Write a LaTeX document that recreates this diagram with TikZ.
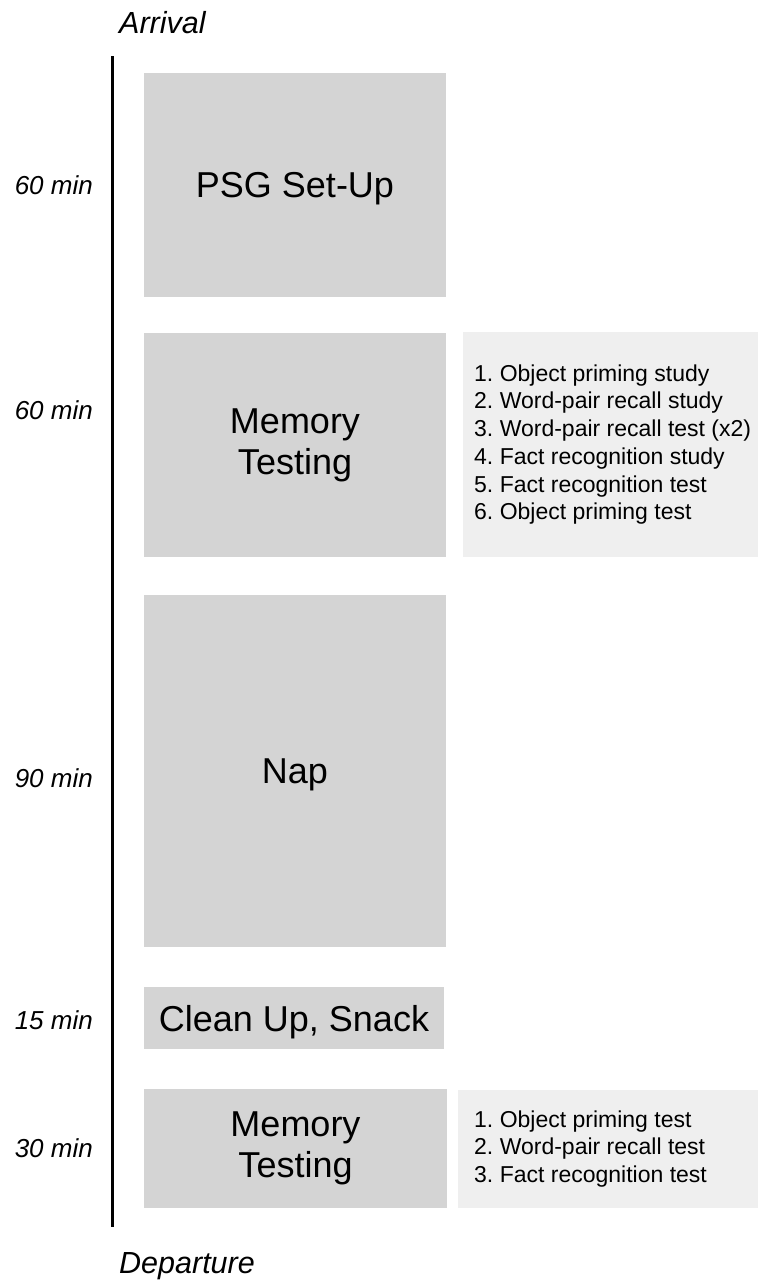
\documentclass[tikz,border=0pt]{standalone}
\usepackage{fontspec}
\setmainfont{Liberation Sans}
\frenchspacing
\definecolor{phasegrey}{RGB}{212,212,212}
\definecolor{listgrey}{RGB}{239,239,239}
\begin{document}
\begin{tikzpicture}[x=1pt,y=-1pt,
  phase/.style={fill=phasegrey, inner sep=0pt, align=center,
    font=\fontsize{36}{41}\selectfont},
  oneline/.style={text depth=0pt},
  listbox/.style={fill=listgrey, inner sep=0pt},
  listtext/.style={anchor=west, inner sep=0pt, align=left,
    font=\fontsize{23}{27.7}\selectfont},
  duration/.style={anchor=east, inner sep=0pt,
    font=\fontsize{26}{30}\selectfont\itshape},
  endlabel/.style={anchor=base west, inner sep=0pt,
    font=\fontsize{30.5}{34}\selectfont\itshape},
  timeline/.style={line width=3pt}]
\useasboundingbox (0,0) rectangle (758,1282);

% timeline
\node[endlabel] (arrival) at (119,33) {Arrival};
\node[endlabel] (departure) at (119,1273) {Departure};
\coordinate (tstart) at (112,56);
\coordinate (tend) at (112,1227);
\draw[timeline] (tstart) -- (tend);

% phases
\node[phase, oneline, minimum width=302pt, minimum height=224pt] (setup) at (295,185) {PSG Set-Up};
\node[phase, minimum width=302pt, minimum height=224pt] (mem1) at (295,445) {Memory\\Testing};
\node[phase, oneline, minimum width=302pt, minimum height=352pt] (nap) at (295,771) {Nap};
\node[phase, oneline, minimum width=300pt, minimum height=62pt] (clean) at (294,1018) {Clean Up, Snack};
\node[phase, minimum width=303pt, minimum height=119pt] (mem2) at (295.5,1148.5) {Memory\\Testing};

% durations
\node[duration] (d1) at (93,185) {60 min};
\node[duration] (d2) at (93,410) {60 min};
\node[duration] (d3) at (93,778) {90 min};
\node[duration] (d4) at (93,1020) {15 min};
\node[duration] (d5) at (93,1148) {30 min};

% task lists
\node[listbox, minimum width=295pt, minimum height=225pt] (list1) at (610.5,444.5) {};
\node[listtext] (tasks1) at (474,444.5) {1. Object priming study\\2. Word-pair recall study\\3. Word-pair recall test (x2)\\4. Fact recognition study\\5. Fact recognition test\\6. Object priming test};
\node[listbox, minimum width=300pt, minimum height=118pt] (list2) at (608,1149) {};
\node[listtext] (tasks2) at (474,1149) {1. Object priming test\\2. Word-pair recall test\\3. Fact recognition test};
\end{tikzpicture}
\end{document}
